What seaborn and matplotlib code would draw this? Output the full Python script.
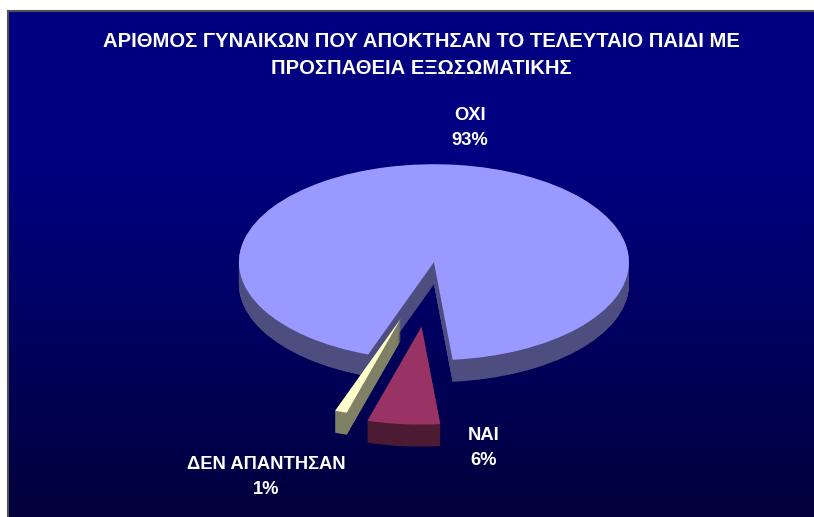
import numpy as np
import matplotlib
matplotlib.use("Agg")
import matplotlib.pyplot as plt
import seaborn as sns

# data
labels = ["ΟΧΙ", "ΔΕΝ ΑΠΑΝΤΗΣΑΝ", "ΝΑΙ"]
values = [93, 1, 6]
pct_labels = ["93%", "1%", "6%"]
explode = [0.08, 0.52, 0.58]
top_colors = ["#9999ff", "#ffffcc", "#993366"]
side_colors = ["#4d4d80", "#808066", "#4d1a33"]
title = "ΑΡΙΘΜΟΣ ΓΥΝΑΙΚΩΝ ΠΟΥ ΑΠΟΚΤΗΣΑΝ ΤΟ ΤΕΛΕΥΤΑΙΟ ΠΑΙΔΙ ΜΕ\nΠΡΟΣΠΑΘΕΙΑ ΕΞΩΣΩΜΑΤΙΚΗΣ"

# layout (pixels of the 814x517 image)
W, H = 814, 517
pie_cx, pie_cy = 432, 270          # pie origin
rx, ry = 195, 98                   # ellipse semi axes
depth_px = 22
label_pos = [(470, 128), (266, 477), (484, 448)]

sns.set_theme(style="white")
plt.rcParams["font.family"] = ["Liberation Sans", "DejaVu Sans"]

fig = plt.figure(figsize=(W / 100, H / 100), dpi=100)
fig.patch.set_facecolor("white")

# gradient panel
panel_x0, panel_y0 = 8, 11
bg = fig.add_axes([panel_x0 / W, 0, (W - panel_x0) / W, (H - panel_y0) / H])
t = np.linspace(0, 1, 400)
blue = np.where(t < 0.3, 128, 128 - (t - 0.3) / 0.7 * 68)
grad = np.zeros((400, 2, 3))
grad[:, :, 2] = (blue / 255.0)[:, None]
bg.imshow(grad, aspect="auto", extent=[0, 1, 0, 1])
bg.set_xticks([])
bg.set_yticks([])
for name, side in bg.spines.items():
    side.set_color("#505050")
    side.set_linewidth(1.5)
    side.set_visible(name in ("top", "left"))

# 3D-looking pie: stacked side layers, then the top face
ax = fig.add_axes([0, 0, 1, 1])
depth = depth_px / ry
n_layers = 44
wp = dict(linewidth=0, antialiased=True)
for k in range(n_layers, 0, -1):
    wedges, _ = ax.pie(values, explode=explode, colors=side_colors,
                       startangle=275.5, counterclock=True,
                       center=(0, -depth * k / n_layers), wedgeprops=wp)
    for i, w in enumerate(wedges):
        w.set_zorder(1 if i == 0 else 3)
wedges, _ = ax.pie(values, explode=explode, colors=top_colors,
                   startangle=275.5, counterclock=True,
                   center=(0, 0), wedgeprops=wp)
for i, w in enumerate(wedges):
    w.set_zorder(2 if i == 0 else 4)

ax.set_aspect("auto")
ax.set_xlim(-pie_cx / rx, (W - pie_cx) / rx)
ax.set_ylim(-(H - pie_cy) / ry, pie_cy / ry)
ax.axis("off")

# text
fig.text(421 / W, 1 - 55 / H, title, ha="center", va="center", color="white",
         fontsize=14.6, fontweight="bold", linespacing=1.5)
for lab, pct, (px, py) in zip(labels, pct_labels, label_pos):
    fig.text(px / W, 1 - py / H, f"{lab}\n{pct}", ha="center", va="center",
             color="white", fontsize=13.2, fontweight="bold", linespacing=1.55)

fig.savefig("out.png", dpi=100, facecolor=fig.get_facecolor())
